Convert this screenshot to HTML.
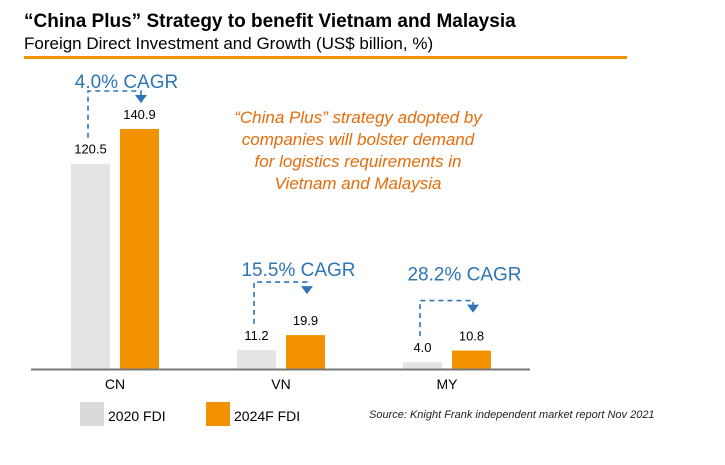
<!DOCTYPE html>
<html><head><meta charset="utf-8"><style>
body{margin:0;background:#fff;width:725px;height:460px;overflow:hidden;font-family:"Liberation Sans",sans-serif}
</style></head><body>
<svg width="725" height="460" font-family="Liberation Sans, sans-serif">
<text x="24" y="27" font-size="19" font-weight="bold" fill="#000">“China Plus” Strategy to benefit Vietnam and Malaysia</text>
<text x="24" y="49" font-size="17" fill="#000">Foreign Direct Investment and Growth (US$ billion, %)</text>
<rect x="24" y="56" width="603" height="3" fill="#f39200"/>
<g id="bars"></g>
<line x1="31" y1="369.5" x2="530" y2="369.5" stroke="#777" stroke-width="2"/>
<text x="216" y="123" font-size="17" font-style="italic" fill="#e46c0a" text-anchor="middle"><tspan x="358" dy="0">“China Plus” strategy adopted by</tspan><tspan x="358" dy="22">companies will bolster demand</tspan><tspan x="358" dy="22">for logistics requirements in</tspan><tspan x="358" dy="22">Vietnam and Malaysia</tspan></text>
<rect x="80" y="402" width="24" height="24" fill="#d9d9d9"/>
<text x="108" y="421" font-size="14">2020 FDI</text>
<rect x="206" y="402" width="24" height="24" fill="#f39200"/>
<text x="234" y="421" font-size="14">2024F FDI</text>
<text x="369" y="418" font-size="11" font-style="italic" fill="#222">Source: Knight Frank independent market report Nov 2021</text>
</svg>
<script>
const categories=["CN","VN","MY"];
const fdi2020=[120.5,11.2,4.0];
const fdi2024=[140.9,19.9,10.8];
const cagrLabels=["4.0% CAGR","15.5% CAGR","28.2% CAGR"];
const NS="http://www.w3.org/2000/svg";
const base=369, scale=240/140.9;
const y=v=>base-v*scale;
const groupX=i=>71+i*166;
const connGap=[38,53,50];
const textGap=[3,6,20];
const textShift=[0,6,6];
const g=document.getElementById('bars');
function mk(t,a){const e=document.createElementNS(NS,t);for(const k in a)e.setAttribute(k,a[k]);g.appendChild(e);return e;}
categories.forEach((c,i)=>{
 const x0=groupX(i), x1=x0+49, w=39;
 const b1=mk('rect',{x:x0,y:y(fdi2020[i]),width:w,height:base-y(fdi2020[i]),fill:'#e4e4e4'});
 
 
 const b2=mk('rect',{x:x1,y:y(fdi2024[i]),width:w,height:base-y(fdi2024[i]),fill:'#f39200'});
 
 
 const l1=mk('text',{x:x0+w/2,y:y(fdi2020[i])-10,'font-size':13,'text-anchor':'middle'});l1.textContent=fdi2020[i].toFixed(1);
 
 
 const l2=mk('text',{x:x1+w/2,y:y(fdi2024[i])-10,'font-size':13,'text-anchor':'middle'});l2.textContent=fdi2024[i].toFixed(1);
 
 
 const cl=mk('text',{x:x0+44,y:389,'font-size':14,'text-anchor':'middle'});cl.textContent=c;
 
 
 const top=y(fdi2024[i])-connGap[i];
 const lx=x0+17, rx=x1+21;
 const p=mk('path',{d:`M${lx},${y(fdi2020[i])-26} V${top} H${rx} V${top+4}`,fill:'none',stroke:'#2e75b6','stroke-width':1.6,'stroke-dasharray':'5,4'});
 
 
 const a=mk('path',{d:`M${rx-6},${top+4} L${rx+6},${top+4} L${rx},${top+12} Z`,fill:'#2e75b6'});
 
 
 const ct=mk('text',{x:(lx+rx)/2+12+textShift[i],y:top-textGap[i],'font-size':19,fill:'#2e75b6','text-anchor':'middle'});ct.textContent=cagrLabels[i];
 
 
});
</script>
</body></html>
